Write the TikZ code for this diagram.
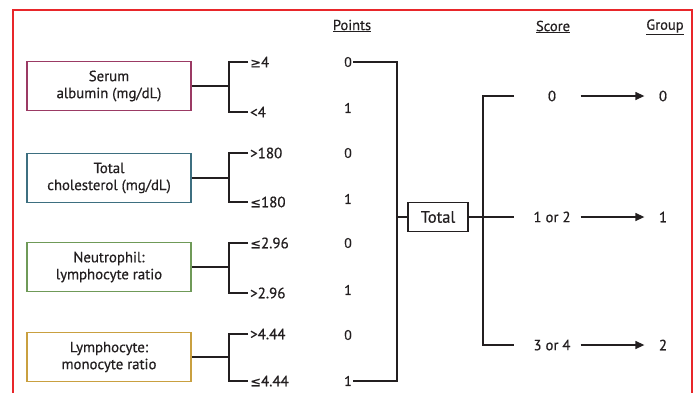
\documentclass[tikz,border=0pt]{standalone}
\usepackage{fontspec}
\setmainfont[FakeBold=0.6]{PT Sans}
\newfontfamily\symfont[FakeBold=0.4]{DejaVu Sans}
\usetikzlibrary{arrows.meta}
\definecolor{framered}{HTML}{E8262A}
\definecolor{cA}{HTML}{9B3A64}
\definecolor{cB}{HTML}{3D6F80}
\definecolor{cC}{HTML}{6F9A58}
\definecolor{cD}{HTML}{C9A040}
\definecolor{ink}{HTML}{231F20}
\newcommand{\gee}{{\symfont\fontsize{13}{14}\selectfont ≥}}
\newcommand{\lee}{{\symfont\fontsize{13}{14}\selectfont ≤}}
\begin{document}
\begin{tikzpicture}[x=1pt,y=-1pt,
  line width=1.3pt, draw=ink, text=ink,
  catbox/.style={draw, line width=1.6pt, minimum width=164pt, minimum height=49pt,
    inner sep=0pt, align=center, font=\fontsize{14.8}{17}\selectfont},
  lab/.style={inner sep=1.5pt, font=\fontsize{15}{16}\selectfont},
  pts/.style={inner sep=1pt, font=\fontsize{14}{16}\selectfont},
  hdr/.style={inner sep=0pt, font=\fontsize{14.5}{16}\selectfont},
  scr/.style={inner sep=0pt, minimum width=56pt, font=\fontsize{14.8}{16}\selectfont},
  grp/.style={inner sep=0pt, minimum width=36pt, font=\fontsize{14.8}{16}\selectfont},
  arr/.style={-{Triangle[length=9pt,width=8pt]}, line width=1.3pt}
]
\useasboundingbox (0,0) rectangle (696,392);
\clip (0,0) rectangle (696,392);
\draw[framered, line width=1.6pt] (13,10) rectangle (692,420);

% headers
\node[hdr] (hP) at (352,26) {\underline{Points}};
\node[hdr] (hS) at (553,27) {\underline{Score}};
\node[hdr] (hG) at (665,27) {\underline{Group}};

% category boxes
\node[catbox, draw=cA] (b1) at (109,86) {Serum\\albumin (mg/dL)};
\node[catbox, draw=cB] (b2) at (109,178) {Total\\cholesterol (mg/dL)};
\node[catbox, draw=cC] (b3) at (109,267) {Neutrophil:\\lymphocyte ratio};
\node[catbox, draw=cD] (b4) at (109,357) {Lymphocyte:\\monocyte ratio};

% branch labels
\node[lab, anchor=west] (l1a) at (248,62) {\gee4};
\node[lab, anchor=west] (l1b) at (248,112) {<4};
\node[lab, anchor=west] (l2a) at (248,153) {>180};
\node[lab, anchor=west] (l2b) at (248,202) {\lee180};
\node[lab, anchor=west] (l3a) at (248,243) {\lee2.96};
\node[lab, anchor=west] (l3b) at (248,293) {>2.96};
\node[lab, anchor=west] (l4a) at (248,334) {>4.44};
\node[lab, anchor=west] (l4b) at (248,381) {\lee4.44};

% brackets
\coordinate (j1) at (229,86);
\coordinate (j2) at (229,178);
\coordinate (j3) at (229,267);
\coordinate (j4) at (229,357);
\draw (b1.east) -- (j1);
\draw (l1a.west) -| (j1) |- (l1b.west);
\draw (b2.east) -- (j2);
\draw (l2a.west) -| (j2) |- (l2b.west);
\draw (b3.east) -- (j3);
\draw (l3a.west) -| (j3) |- (l3b.west);
\draw (b4.east) -- (j4);
\draw (l4a.west) -| (j4) |- (l4b.west);

% points
\node[pts] (p1) at (348,62) {0};
\node[pts] (p2) at (348,108) {1};
\node[pts] (p3) at (348,153) {0};
\node[pts] (p4) at (348,199) {1};
\node[pts] (p5) at (348,243) {0};
\node[pts] (p6) at (348,290) {1};
\node[pts] (p7) at (348,335) {0};
\node[pts] (p8) at (348,381) {1};

\coordinate (pt) at (397,62);
\coordinate (pb) at (397,381);
\coordinate (pj) at (397,217);
\draw (p1.east) -- (pt) -- (pb) -- (p8.east);

% total
\node[draw, line width=1.3pt, minimum width=60pt, minimum height=29pt, inner sep=0pt,
  font=\fontsize{16.5}{18}\selectfont] (tot) at (438,217) {Total};
\draw (pj) -- (tot.west);

\coordinate (st) at (483,96);
\coordinate (sb) at (483,345);
\coordinate (e1) at (514,96);
\coordinate (e2) at (514,217);
\coordinate (e3) at (514,345);
\draw (tot.east) -- (e2);
\draw (e1) -- (st) -- (sb) -- (e3);

% scores and groups
\node[scr] (s1) at (552,96) {0};
\node[scr] (s2) at (552,217) {1 or 2};
\node[scr] (s3) at (552,345) {3 or 4};
\node[grp] (g1) at (663,96) {0};
\node[grp] (g2) at (663,217) {1};
\node[grp] (g3) at (663,345) {2};
\draw[arr] (s1.east) -- (g1.west);
\draw[arr] (s2.east) -- (g2.west);
\draw[arr] (s3.east) -- (g3.west);
\end{tikzpicture}
\end{document}
